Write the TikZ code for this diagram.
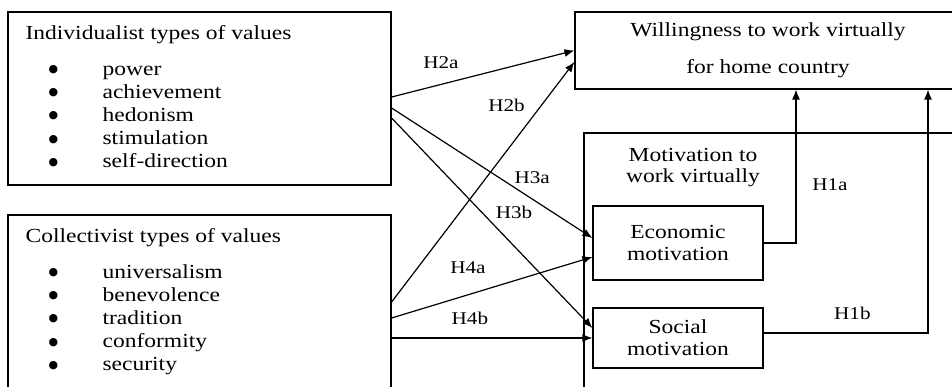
\documentclass[tikz,border=0pt]{standalone}
\usepackage{fontspec}
\setmainfont{Liberation Serif}[FakeStretch=1.18]
\newfontfamily\dejavu{DejaVu Sans}
\usetikzlibrary{arrows.meta}

\newcommand{\blt}{\raisebox{2.5bp}{\dejavu\fontsize{11}{11}\selectfont ●}}

\tikzset{
	box/.style={draw, line width=1.2bp},
	hyp/.style={font=\fontsize{18}{20}\selectfont},
}

\begin{document}
\begin{tikzpicture}[>={Latex[length=10bp,width=8bp]}, line width=1.2bp, inner sep=0pt, font=\fontsize{20}{23.3}\selectfont]
	\useasboundingbox (0bp,0bp) rectangle (952bp,-387bp);
	\clip (0bp,0bp) rectangle (952bp,-387bp);

	\node[box, minimum width=383bp, minimum height=173bp] (IND) at (199.5bp,-98.5bp)  {};
	\node[box, minimum width=383bp, minimum height=185bp] (COL) at (199.5bp,-307.5bp) {};
	\node[box, minimum width=386bp, minimum height=77bp, align=center] (WIL) at (768bp,-50.5bp)
		{Willingness to work virtually\\[14bp]for home country};
	\node[box, minimum width=396bp, minimum height=267bp] (MOT) at (782bp,-266.5bp) {};
	\node[box, minimum width=170bp, minimum height=74bp, align=center] (ECO) at (678bp,-243bp) {Economic\\[-2bp]motivation};
	\node[box, minimum width=170bp, minimum height=60bp, align=center] (SOC) at (678bp,-338bp) {Social\\[-1bp]motivation};

	\node[anchor=base west] (INDT) at (25bp,-39bp)  {Individualist types of values};
	\node[anchor=base west] (INDL) at (48bp,-75bp)  {\begin{tabular}[t]{@{}p{54bp}@{}l@{}}
		\blt & power\\ \blt & achievement\\ \blt & hedonism\\ \blt & stimulation\\ \blt & self-direction
	\end{tabular}};
	\node[anchor=base west] (COLT) at (25bp,-242bp) {Collectivist types of values};
	\node[anchor=base west] (COLL) at (48bp,-278bp) {\begin{tabular}[t]{@{}p{54bp}@{}l@{}}
		\blt & universalism\\ \blt & benevolence\\ \blt & tradition\\ \blt & conformity\\ \blt & security
	\end{tabular}};
	\node[align=center] (MOTT) at (693bp,-167.5bp) {Motivation to\\[-2bp]work virtually};

	\draw[->] ([yshift=1.5bp]IND.east)   to node[hyp, pos=.27, yshift=21.5bp] {H2a} (WIL.west);
	\draw[->] ([yshift=5.5bp]COL.east)   to node[hyp, pos=.82, xshift=-35bp]  {H2b} ([yshift=-11.5bp]WIL.west);
	\draw[->] ([yshift=-9.5bp]IND.east)  to node[hyp, pos=.70, yshift=21bp]   {H3a} ([yshift=5bp]ECO.west);
	\draw[->] ([yshift=-19.5bp]IND.east) to node[hyp, pos=.61, yshift=34bp]   {H3b} ([yshift=10bp]SOC.west);
	\draw[->] ([yshift=-10.5bp]COL.east) to node[hyp, pos=.38, yshift=27bp]   {H4a} ([yshift=-14bp]ECO.west);
	\draw[->] (SOC.west -| COL.east)     to node[hyp, pos=.39, yshift=20bp]   {H4b} (SOC.west);
	\draw[->] (ECO.east) -| node[hyp, pos=.69, xshift=34bp] {H1a} ([xshift=28bp]WIL.south);
	\draw[->] ([yshift=5bp]SOC.east) -| node[hyp, pos=.27, yshift=20bp] {H1b} ([xshift=160bp]WIL.south);
\end{tikzpicture}
\end{document}
